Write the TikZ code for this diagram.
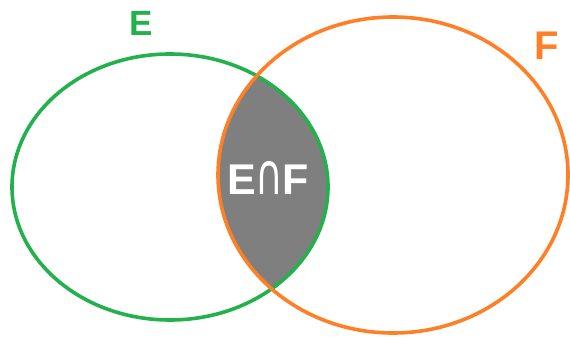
\documentclass[tikz,border=0pt]{standalone}
\usepackage{fontspec}
\setmainfont{Liberation Sans}
\newfontfamily\capfont{DejaVu Sans}
\usepackage{graphicx}
\usepackage{tikz}
\usetikzlibrary{positioning}

\definecolor{setgreen}{HTML}{22B14C}
\definecolor{setorange}{HTML}{FF7F27}
\definecolor{capgray}{HTML}{7F7F7F}

% tall cap sign, as high as the capitals beside it
\newcommand{\tallcap}{{\capfont\mdseries\fontsize{38}{38}\selectfont\scalebox{1}[1.5]{∩}}}

\begin{document}
\begin{tikzpicture}[x=1pt, y=-1pt,
    setline/.style={line width=3.6pt},
    setlabel/.style={font=\bfseries\fontsize{35}{35}\selectfont, inner sep=0pt}]
    \useasboundingbox (0, 0) rectangle (570, 337);

    % Intersection E cap F
    \begin{scope}
        \clip (170, 187) ellipse [x radius=158, y radius=133];
        \fill[capgray] (393, 175) ellipse [x radius=175, y radius=158];
    \end{scope}

    % Sets
    \draw[setline, setgreen] (170, 187) ellipse [x radius=158, y radius=133];
    \draw[setline, setorange] (393, 175) ellipse [x radius=175, y radius=158];

    % Labels
    \node[setlabel, text=setgreen] (lblE) at (141, 23) {E};
    \node[setlabel, text=setorange, font=\bfseries\fontsize{40}{40}\selectfont] (lblF) at (547, 46) {F};
    \node[setlabel, text=white, font=\bfseries\fontsize{43}{43}\selectfont] (lblEF) at (268, 178)
        {E\kern-1pt\tallcap\kern-1pt F};
\end{tikzpicture}
\end{document}
